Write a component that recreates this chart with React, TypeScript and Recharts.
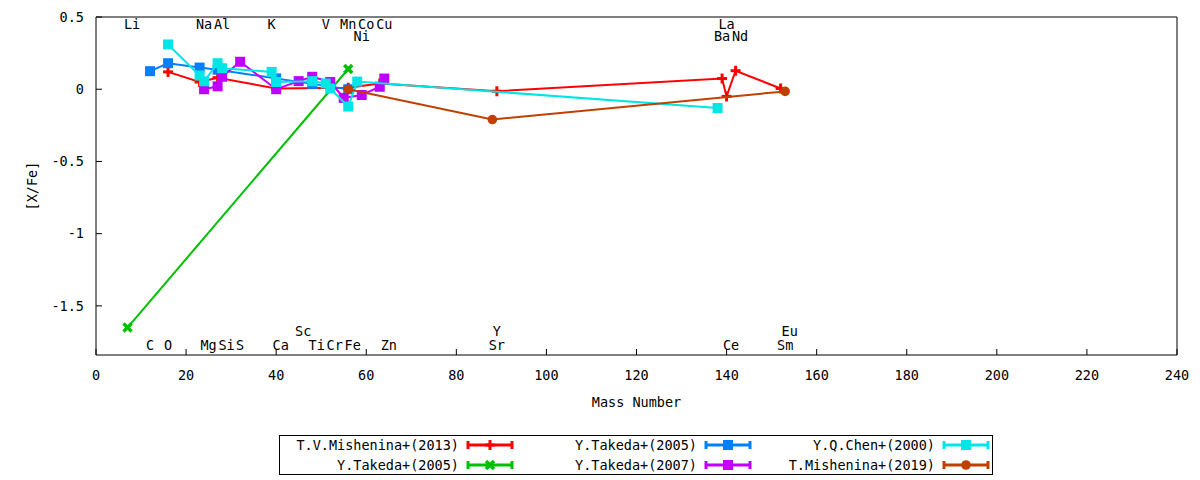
import React from "react";
import { ScatterChart, Scatter, XAxis, YAxis } from "recharts";

const FONT = "'DejaVu Sans Mono', monospace";
const FS = 13.5;

const xTicks = [0, 20, 40, 60, 80, 100, 120, 140, 160, 180, 200, 220, 240];
const yTicks = [-1.5, -1, -0.5, 0, 0.5];

// [mass number, [X/Fe]], in plotting order
const mishenina2013 = [
  [16, 0.12], [23, 0.05], [27, 0.08], [40, 0.005], [56, 0.01], [63, 0.04],
  [89, -0.014], [139, 0.074], [140, -0.05], [142, 0.128], [152, 0.005],
];
const takeda2005Li = [[7, -1.65], [56, 0.14]];
const takeda2005 = [
  [12, 0.125], [16, 0.18], [23, 0.15], [27, 0.135], [40, 0.075], [48, 0.037], [56, 0.0],
];
const takeda2007 = [
  [24, 0.0], [27, 0.02], [28, 0.086], [32, 0.19], [40, 0.0], [45, 0.056], [48, 0.086],
  [52, 0.05], [55, -0.06], [59, -0.04], [63, 0.017], [64, 0.074],
];
const chen2000 = [
  [16, 0.31], [23, 0.095], [24, 0.055], [27, 0.18], [28, 0.145], [39, 0.12], [40, 0.05],
  [48, 0.056], [51, 0.04], [52, 0.005], [56, -0.12], [58, 0.053], [138, -0.13],
];
const mishenina2019 = [[56, 0.0], [88, -0.21], [153, -0.015]];

// element labels: [symbol, mass number]
const labelsTop = [["Li", 7], ["Na", 23], ["Al", 27], ["K", 39], ["V", 51], ["Mn", 55], ["Co", 59], ["Cu", 63], ["La", 139]];
const labelsSecond = [["Ni", 58], ["Ba", 138], ["Nd", 142]];
const labelsLower = [["Sc", 45], ["Y", 89], ["Eu", 153]];
const labelsBottom = [
  ["C", 12], ["O", 16], ["Mg", 24], ["Si", 28], ["S", 32], ["Ca", 40], ["Ti", 48],
  ["Cr", 52], ["Fe", 56], ["Zn", 64], ["Sr", 88], ["Ce", 140], ["Sm", 152],
];

type Kind = "plus" | "cross" | "square" | "circle";

const series: { name: string; color: string; kind: Kind; rows: number[][] }[] = [
  { name: "T.V.Mishenina+(2013)", color: "#ff0000", kind: "plus", rows: mishenina2013 },
  { name: "Y.Takeda+(2005)", color: "#00c000", kind: "cross", rows: takeda2005Li },
  { name: "Y.Takeda+(2005)", color: "#0080ff", kind: "square", rows: takeda2005 },
  { name: "Y.Takeda+(2007)", color: "#c000ff", kind: "square", rows: takeda2007 },
  { name: "Y.Q.Chen+(2000)", color: "#00e5e5", kind: "square", rows: chen2000 },
  { name: "T.Mishenina+(2019)", color: "#c04000", kind: "circle", rows: mishenina2019 },
];

const labelPoints = [
  ...labelsTop.map(([s, m]) => ({ x: m as number, y: 0.455, s: s as string })),
  ...labelsSecond.map(([s, m]) => ({ x: m as number, y: 0.368, s: s as string })),
  ...labelsLower.map(([s, m]) => ({ x: m as number, y: -1.672, s: s as string })),
  ...labelsBottom.map(([s, m]) => ({ x: m as number, y: -1.77, s: s as string })),
];

function marker(kind: Kind, cx: number, cy: number, color: string) {
  if (kind === "plus") {
    return (
      <g stroke={color} strokeWidth={3}>
        <line x1={cx - 5} y1={cy} x2={cx + 5} y2={cy} />
        <line x1={cx} y1={cy - 5} x2={cx} y2={cy + 5} />
      </g>
    );
  }
  if (kind === "cross") {
    return (
      <g stroke={color} strokeWidth={3.5}>
        <line x1={cx - 4} y1={cy - 4} x2={cx + 4} y2={cy + 4} />
        <line x1={cx - 4} y1={cy + 4} x2={cx + 4} y2={cy - 4} />
      </g>
    );
  }
  if (kind === "circle") return <circle cx={cx} cy={cy} r={4.8} fill={color} />;
  return <rect x={cx - 5} y={cy - 5} width={10} height={10} fill={color} />;
}

const tickStyle = { fontFamily: FONT, fontSize: FS, fill: "#000" };

export default function App() {
  return (
    <div style={{ position: "absolute", left: 0, top: 0, width: 1200, height: 480, background: "#fff" }}>
      <ScatterChart width={1200} height={480} margin={{ top: 12, right: 0, bottom: 0, left: 0 }}>
        <XAxis
          type="number"
          dataKey="x"
          domain={[0, 240]}
          ticks={xTicks}
          height={125}
          tickSize={-6}
          tickMargin={21}
          tick={tickStyle}
          axisLine={{ stroke: "#000" }}
          tickLine={{ stroke: "#000" }}
          label={{ value: "Mass Number", position: "insideTop", offset: 42, style: tickStyle }}
        />
        <XAxis
          xAxisId="top"
          orientation="top"
          type="number"
          domain={[0, 240]}
          ticks={xTicks}
          height={5}
          tickSize={-6}
          tickFormatter={() => ""}
          axisLine={{ stroke: "#000" }}
          tickLine={{ stroke: "#000" }}
        />
        <YAxis
          type="number"
          dataKey="y"
          domain={[-1.84, 0.5]}
          ticks={yTicks}
          width={96}
          tickSize={-6}
          tickMargin={18}
          tick={tickStyle}
          axisLine={{ stroke: "#000" }}
          tickLine={{ stroke: "#000" }}
          label={{
            content: (p: any) => {
              const vb = p.viewBox || { x: 0, y: 17, height: 338 };
              const lx = vb.x + 32;
              const ly = vb.y + vb.height / 2;
              return (
                <text x={lx} y={ly} transform={`rotate(-90 ${lx} ${ly})`} textAnchor="middle" dominantBaseline="central" style={tickStyle}>
                  [X/Fe]
                </text>
              );
            },
          }}
        />
        <YAxis
          yAxisId="right"
          orientation="right"
          type="number"
          domain={[-1.84, 0.5]}
          ticks={yTicks}
          width={23}
          tickSize={-6}
          tickFormatter={() => ""}
          axisLine={{ stroke: "#000" }}
          tickLine={{ stroke: "#000" }}
        />

        <Scatter
          data={labelPoints}
          isAnimationActive={false}
          shape={(p: any) => (
            <text
              x={p.cx + (p.payload.s.length - 1) * 4.5}
              y={p.cy}
              textAnchor="middle"
              dominantBaseline="central"
              style={tickStyle}
            >
              {p.payload.s}
            </text>
          )}
        />

        {series.map((s, i) => (
          <Scatter
            key={i}
            data={s.rows.map(([x, y]) => ({ x, y }))}
            fill={s.color}
            line={{ stroke: s.color, strokeWidth: 2 }}
            lineType="joint"
            isAnimationActive={false}
            shape={(p: any) => marker(s.kind, p.cx, p.cy, s.color)}
          />
        ))}
      </ScatterChart>

      {/* legend */}
      <div
        style={{
          position: "absolute",
          left: 279,
          top: 435,
          width: 712,
          height: 38,
          border: "1px solid #000",
          fontFamily: FONT,
          fontSize: FS,
        }}
      >
        {series.map((s, i) => {
          const col = Math.floor(i / 2);
          const row = i % 2;
          return (
            <div key={i}>
              <div
                style={{
                  position: "absolute",
                  left: 7 + col * 238,
                  top: 1 + row * 20,
                  width: 172,
                  height: 16,
                  lineHeight: "16px",
                  textAlign: "right",
                  whiteSpace: "nowrap",
                }}
              >
                {s.name}
              </div>
              <svg
                width={48}
                height={14}
                style={{ position: "absolute", left: 186 + col * 238, top: 2 + row * 20 }}
              >
                <line x1={2} y1={7} x2={46} y2={7} stroke={s.color} strokeWidth={3} />
                <line x1={2} y1={3} x2={2} y2={11} stroke={s.color} strokeWidth={3} />
                <line x1={46} y1={3} x2={46} y2={11} stroke={s.color} strokeWidth={3} />
                {marker(s.kind, 24, 7, s.color)}
              </svg>
            </div>
          );
        })}
      </div>
    </div>
  );
}
